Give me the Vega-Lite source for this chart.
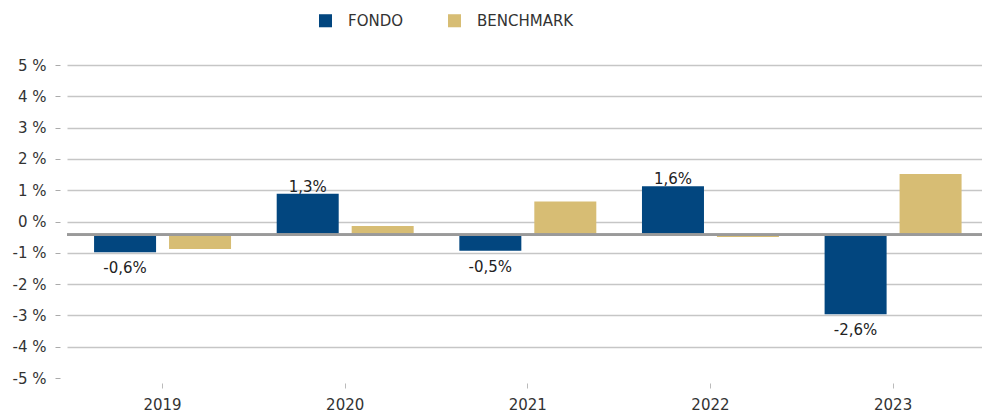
{
  "$schema": "https://vega.github.io/schema/vega-lite/v6.json",
  "autosize": {"type": "none"},
  "width": 915,
  "height": 313,
  "padding": {"left": 67, "top": 65, "right": 0, "bottom": 36},
  "background": "white",
  "data": {
    "values": [
      {"year": "2019", "series": "FONDO", "value": -0.56, "label": "-0,6%"},
      {"year": "2019", "series": "BENCHMARK", "value": -0.45, "label": ""},
      {"year": "2020", "series": "FONDO", "value": 1.31, "label": "1,3%"},
      {"year": "2020", "series": "BENCHMARK", "value": 0.28, "label": ""},
      {"year": "2021", "series": "FONDO", "value": -0.51, "label": "-0,5%"},
      {"year": "2021", "series": "BENCHMARK", "value": 1.06, "label": ""},
      {"year": "2022", "series": "FONDO", "value": 1.55, "label": "1,6%"},
      {"year": "2022", "series": "BENCHMARK", "value": -0.07, "label": ""},
      {"year": "2023", "series": "FONDO", "value": -2.54, "label": "-2,6%"},
      {"year": "2023", "series": "BENCHMARK", "value": 1.94, "label": ""}
    ]
  },
  "config": {
    "view": {"stroke": null},
    "font": "DejaVu Sans",
    "axis": {"labelFont": "DejaVu Sans", "labelColor": "#333333", "labelOverlap": false}
  },
  "layer": [
    {
      "mark": {"type": "bar"},
      "encoding": {
        "x": {
          "field": "year",
          "type": "nominal",
          "scale": {"paddingInner": 0.25, "paddingOuter": 0.13, "align": 0.57},
          "axis": {
            "title": null,
            "labelAngle": 0,
            "domain": false,
            "grid": false,
            "ticks": true,
            "tickSize": 5,
            "tickColor": "#bbbbbb",
            "offset": 5,
            "labelPadding": 9,
            "labelFontSize": 15
          }
        },
        "xOffset": {
          "field": "series",
          "type": "nominal",
          "scale": {"domain": ["FONDO", "BENCHMARK"], "paddingInner": 0.173, "paddingOuter": 0}
        },
        "y": {
          "field": "value",
          "type": "quantitative",
          "scale": {"domain": [-4.575, 5.425], "nice": false, "zero": false},
          "axis": {
            "title": null,
            "values": [-4.575, -3.575, -2.575, -1.575, -0.575, 0.425, 1.425, 2.425, 3.425, 4.425, 5.425],
            "tickCount": 30,
            "labelExpr": "round(datum.value - 0.425) + ' %'",
            "labelOverlap": false,
            "domain": false,
            "grid": true,
            "gridColor": "#c6c6c6",
            "gridWidth": 1.6,
            "gridOpacity": {"condition": {"test": "datum.value < -4", "value": 0}, "value": 1},
            "tickSize": 5,
            "tickColor": "#aaaaaa",
            "offset": 7,
            "labelPadding": 9,
            "labelFontSize": 15
          }
        },
        "color": {
          "field": "series",
          "type": "nominal",
          "scale": {"domain": ["FONDO", "BENCHMARK"], "range": ["#02467f", "#d7bd74"]},
          "legend": {
            "title": null,
            "orient": "none",
            "direction": "horizontal",
            "legendX": 251,
            "legendY": -52,
            "symbolType": "square",
            "symbolSize": 170,
            "symbolStrokeWidth": 0,
            "labelFont": "DejaVu Sans",
            "labelFontSize": 15,
            "labelColor": "#333333",
            "labelOffset": 15,
            "columnPadding": 43
          }
        }
      }
    },
    {
      "mark": {"type": "rule", "color": "#9a9a9a", "strokeWidth": 2},
      "encoding": {"y": {"datum": 0, "type": "quantitative"}}
    },
    {
      "transform": [{"filter": "datum.series == 'FONDO' && datum.value > 0"}],
      "mark": {"type": "text", "baseline": "alphabetic", "dy": -2, "fontSize": 15, "color": "#222222"},
      "encoding": {
        "x": {"field": "year", "type": "nominal"},
        "xOffset": {"field": "series", "type": "nominal"},
        "y": {"field": "value", "type": "quantitative"},
        "text": {"field": "label"}
      }
    },
    {
      "transform": [{"filter": "datum.series == 'FONDO' && datum.value < 0"}],
      "mark": {"type": "text", "baseline": "top", "dy": 9, "fontSize": 15, "color": "#222222"},
      "encoding": {
        "x": {"field": "year", "type": "nominal"},
        "xOffset": {"field": "series", "type": "nominal"},
        "y": {"field": "value", "type": "quantitative"},
        "text": {"field": "label"}
      }
    }
  ]
}
